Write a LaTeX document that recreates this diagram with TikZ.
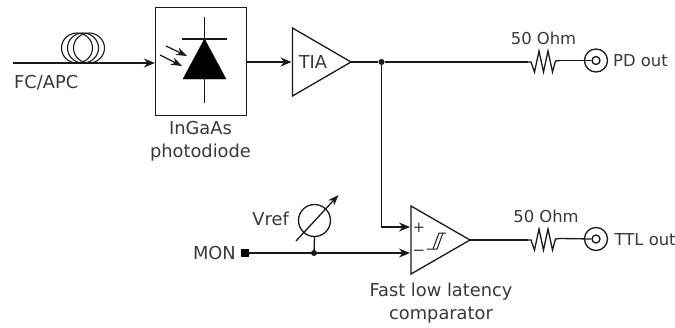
\documentclass[tikz,border=0pt]{standalone}
\usepackage{fontspec}
\setmainfont{DejaVu Sans}
\usetikzlibrary{arrows.meta,calc}
\definecolor{ink}{gray}{0.1}
\definecolor{txt}{gray}{0.22}
\tikzset{
  wire/.style={draw=ink,line width=1.4pt},
  arrowwire/.style={wire,-{Stealth[length=11pt,width=9pt]}},
  thin arrow/.style={draw=ink,line width=1.2pt,-{Stealth[length=11pt,width=8pt]}},
  lbl/.style={inner sep=0pt,text=txt,font=\fontsize{17.8}{23}\selectfont,align=center},
  smalllbl/.style={lbl,font=\fontsize{16.4}{20}\selectfont},
  outline/.style={draw=ink,line width=1.3pt},
  junction/.style={circle,fill=ink,inner sep=0pt,minimum size=6pt},
}
\newcommand{\resist}[3]{% start x, y-left, y-right
  \draw[wire,line width=1.3pt,line join=miter] (#1,#2) -- ++(3,0) -- ++(3.5,10) -- ++(4.5,-21) -- ++(4.5,21) -- ++(4.5,-21) -- ++(4.5,21) -- ++(3,-11) -- (#1+32,#3);
}
\begin{document}
\begin{tikzpicture}[x=1pt,y=-1pt]
\useasboundingbox (0,0) rectangle (675,327);
% fibre input
\coordinate (fibre) at (13,63);
\node[draw=ink,line width=1.3pt,minimum width=91pt,minimum height=108pt,inner sep=0pt] (pd) at (201,61.5) {};
\draw[arrowwire] (fibre) -- (pd.west |- fibre);
\foreach \c in {77,83,89}{\draw[outline,line width=1.1pt] (\c,48) ellipse [x radius=15.5,y radius=15];}
\node[lbl,anchor=west] (fc) at (14,83) {FC/APC};
% photodiode symbol
\coordinate (da) at (204.5,39);
\draw[fill=black,draw=black] (da) -- (226,79) -- (183,79) -- cycle;
\draw[outline] (182,39) -- (227,39);
\draw[outline] (204.5,17) -- (da);
\draw[outline] (204.5,79) -- (204.5,103);
\draw[thin arrow] (166,46) -- (187,56);
\draw[thin arrow] (160,55) -- (182,66);
\node[lbl] (pdl) at (200.5,141.5) {InGaAs\\photodiode};
% TIA
\coordinate (tA) at (292.5,28);\coordinate (tB) at (292.5,96);\coordinate (tC) at (351,62);
\draw[outline,line join=miter] (tA) -- (tB) -- (tC) -- cycle;
\node[lbl] (tia) at (313,62) {TIA};
\draw[arrowwire] (pd.east |- tC) -- (291.5,62);
\node[junction] (j1) at (381.5,62) {};
\draw[wire] (tC) -- (j1) -- (528,62);
\resist{528}{62}{60.5}
\node[smalllbl] (r1) at (543.5,38) {50 Ohm};
\node[circle,outline,minimum size=23pt,inner sep=0pt] (c1) at (596,60.5) {};
\node[circle,outline,minimum size=8pt,inner sep=0pt] (c1i) at (596,60.5) {};
\draw[wire,line width=1.3pt] (560,60.5) -- (c1i.west);
\node[smalllbl,anchor=west] (pdo) at (613,60.5) {PD out};
% comparator
\coordinate (cA) at (411,206);\coordinate (cB) at (411,274);\coordinate (cC) at (470,240);
\draw[outline,line join=miter] (cA) -- (cB) -- (cC) -- cycle;
\draw[arrowwire] (j1) -- (381.5,227) -- (410,227);
\coordinate (mp) at (245,253);
\node[fill=black,minimum size=8pt,inner sep=0pt] (mon) at (mp) {};
\node[junction] (j2) at (314,253) {};
\draw[arrowwire] (mon) -- (410,253);
\node[lbl,anchor=east] (monl) at (236,253.5) {MON};
\node[lbl,font=\fontsize{15}{15}\selectfont] (plus) at (419,228) {+};
\node[lbl,font=\fontsize{15}{15}\selectfont] (minus) at (419,252.5) {−};
% hysteresis
\draw[draw=ink,line width=1pt] (427,249) -- (437,249) -- (443,233) -- (446,233);
\draw[draw=ink,line width=1pt] (433,249) -- (439,233) -- (443,233);
% Vref
\node[circle,outline,minimum size=32pt,inner sep=0pt] (v) at (314.5,220.5) {};
\draw[outline] (v.south) -- (j2);
\draw[draw=ink,line width=1.3pt,-{Stealth[length=11pt,width=8pt]}] (296,241) -- (338.5,195);
\node[lbl,anchor=east] (vl) at (289,219) {Vref};
% bottom output
\draw[wire] (cC) -- (528,240);
\resist{528}{240}{238.5}
\node[smalllbl] (r2) at (546,216) {50 Ohm};
\node[circle,outline,minimum size=23pt,inner sep=0pt] (c2) at (596,239) {};
\node[circle,outline,minimum size=8pt,inner sep=0pt] (c2i) at (596,239) {};
\draw[wire,line width=1.3pt] (560,238.5) -- (c2i.west);
\node[smalllbl,anchor=west] (ttl) at (614.5,240) {TTL out};
\node[lbl] (cl) at (441,303) {Fast low latency\\comparator};
\end{tikzpicture}
\end{document}
